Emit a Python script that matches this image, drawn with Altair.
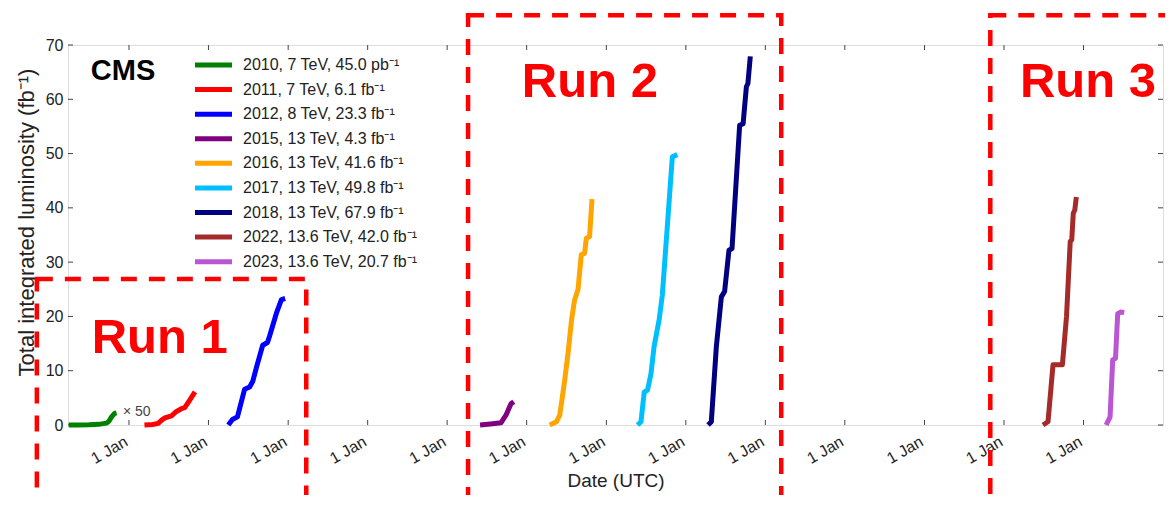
import altair as alt
import pandas as pd

# ---------------- data ----------------
LABELS = [
    "2010, 7 TeV, 45.0 pb⁻¹",
    "2011, 7 TeV, 6.1 fb⁻¹",
    "2012, 8 TeV, 23.3 fb⁻¹",
    "2015, 13 TeV, 4.3 fb⁻¹",
    "2016, 13 TeV, 41.6 fb⁻¹",
    "2017, 13 TeV, 49.8 fb⁻¹",
    "2018, 13 TeV, 67.9 fb⁻¹",
    "2022, 13.6 TeV, 42.0 fb⁻¹",
    "2023, 13.6 TeV, 20.7 fb⁻¹",
]
COLORS = ["#008000", "#ff0000", "#0000ff", "#800080", "#ffa500",
          "#00bfff", "#000080", "#a52a2a", "#ba55d3"]

# 2010 is drawn multiplied by 50 (as in the original)
DATES_2010 = ["2010-03-30", "2010-05-15", "2010-07-01", "2010-08-15", "2010-09-20",
              "2010-10-01", "2010-10-13", "2010-10-27", "2010-11-05"]
LUMI_2010_X50 = [0.0, 0.02, 0.05, 0.12, 0.35, 0.7, 1.5, 2.15, 2.25]

DATES_2011 = ["2011-03-13", "2011-04-20", "2011-05-15", "2011-05-31", "2011-06-15",
              "2011-07-15", "2011-08-07", "2011-08-30", "2011-09-14", "2011-10-07",
              "2011-10-31"]
LUMI_2011 = [0.0, 0.1, 0.3, 0.9, 1.3, 1.7, 2.5, 3.0, 3.2, 4.6, 6.1]

DATES_2012 = ["2012-04-01", "2012-04-20", "2012-05-13", "2012-06-15", "2012-07-08",
              "2012-07-22", "2012-08-09", "2012-09-06", "2012-09-28", "2012-10-07",
              "2012-11-08", "2012-12-01", "2012-12-18"]
LUMI_2012 = [0.0, 1.0, 1.5, 6.6, 7.0, 8.0, 10.7, 14.7, 15.2, 16.3, 20.6, 23.1, 23.3]

DATES_2015 = ["2015-06-01", "2015-07-20", "2015-09-05", "2015-09-28", "2015-10-21",
              "2015-11-03"]
LUMI_2015 = [0.0, 0.2, 0.4, 1.8, 3.9, 4.3]

DATES_2016 = ["2016-04-16", "2016-05-17", "2016-06-01", "2016-06-24", "2016-07-09",
              "2016-07-25", "2016-08-08", "2016-08-24", "2016-09-08", "2016-09-23",
              "2016-10-01", "2016-10-16", "2016-10-27"]
LUMI_2016 = [0.0, 0.6, 1.8, 8.3, 13.2, 19.3, 23.0, 25.0, 31.4, 31.6, 34.4, 34.7, 41.6]

DATES_2017 = ["2017-05-24", "2017-06-09", "2017-06-24", "2017-07-09", "2017-07-25",
              "2017-08-08", "2017-08-31", "2017-09-15", "2017-10-31", "2017-11-23"]
LUMI_2017 = [0.0, 0.6, 6.1, 6.4, 9.5, 14.4, 19.3, 23.9, 49.4, 49.8]

DATES_2018 = ["2018-04-13", "2018-04-28", "2018-05-21", "2018-06-13", "2018-06-28",
              "2018-07-18", "2018-08-01", "2018-09-05", "2018-09-21", "2018-10-06",
              "2018-10-13", "2018-10-24"]
LUMI_2018 = [0.0, 0.6, 14.4, 23.6, 24.6, 32.2, 32.5, 55.2, 55.5, 62.3, 62.9, 67.9]

DATES_2022 = ["2022-06-29", "2022-07-22", "2022-08-14", "2022-09-26", "2022-10-15",
              "2022-11-01", "2022-11-08", "2022-11-15", "2022-11-22", "2022-11-29"]
LUMI_2022 = [0.0, 0.6, 11.1, 11.1, 20.0, 33.8, 34.1, 39.0, 39.6, 42.0]

DATES_2023 = ["2023-04-15", "2023-05-03", "2023-05-15", "2023-05-28", "2023-06-07",
              "2023-06-22", "2023-07-07"]
LUMI_2023 = [0.0, 1.5, 12.0, 12.3, 20.5, 20.8, 20.7]

YEAR_TICKS = [2011, 2012, 2013, 2014, 2015, 2016, 2017, 2018, 2019, 2020, 2021, 2022, 2023]
Y_TICKS = [0, 10, 20, 30, 40, 50, 60, 70]

# annotations (data coordinates)
RUN_NAMES = ["Run 1", "Run 2", "Run 3"]
RUN_START = ["2009-11-04", "2015-04-07", "2021-10-30"]
RUN_END = ["2013-03-25", "2019-03-15", "2024-04-20"]
RUN_TOP = [26.9, 75.5, 75.5]
RUN_BOTTOM = [-14.9, -14.9, -14.9]
RUN_LABEL_DATE = ["2010-07-14", "2015-12-10", "2022-03-15"]
RUN_LABEL_LUMI = [13.3, 60.4, 60.4]

CMS_DATE = ["2010-07-10"]
CMS_LUMI = [63.6]
X50_DATE = ["2010-12-04"]
X50_LUMI = [2.4]

# ---------------- tables ----------------
series = [
    (DATES_2010, LUMI_2010_X50), (DATES_2011, LUMI_2011), (DATES_2012, LUMI_2012),
    (DATES_2015, LUMI_2015), (DATES_2016, LUMI_2016), (DATES_2017, LUMI_2017),
    (DATES_2018, LUMI_2018), (DATES_2022, LUMI_2022), (DATES_2023, LUMI_2023),
]
frames = []
for lab, (d, v) in zip(LABELS, series):
    frames.append(pd.DataFrame({"date": d, "lumi": v, "label": lab}))
lines_df = pd.concat(frames, ignore_index=True)

year_df = pd.DataFrame({"date": [f"{y}-01-01" for y in YEAR_TICKS]})
ytick_df = pd.DataFrame({"lumi": Y_TICKS})
runs_df = pd.DataFrame({"name": RUN_NAMES, "date": RUN_START, "date2": RUN_END,
                        "lumi": RUN_TOP, "lumi2": RUN_BOTTOM})
runlab_df = pd.DataFrame({"name": RUN_NAMES, "date": RUN_LABEL_DATE, "lumi": RUN_LABEL_LUMI})
cms_df = pd.DataFrame({"t": ["CMS"], "date": CMS_DATE, "lumi": CMS_LUMI})
x50_df = pd.DataFrame({"t": ["× 50"], "date": X50_DATE, "lumi": X50_LUMI})
legend_df = pd.DataFrame({"label": LABELS})

# ---------------- layout ----------------
W, H = 1095, 380
FONT = "Liberation Sans"
TXT = "#222222"

xscale = alt.Scale(type="utc",
                   domain=[alt.DateTime(year=2010, month=3, date=27, utc=True),
                           alt.DateTime(year=2024, month=1, date=1, utc=True)])
yscale = alt.Scale(domain=[0, 70], nice=False, zero=False)
cscale = alt.Scale(domain=LABELS, range=COLORS)

xaxis = alt.Axis(values=[alt.DateTime(year=y, month=1, date=1, utc=True) for y in YEAR_TICKS],
                 labelExpr="utcFormat(datum.value, '%-d %b')",
                 title="Date (UTC)")
yaxis = alt.Axis(values=Y_TICKS, title="Total integrated luminosity (fb⁻¹)")

X = lambda f="date": alt.X(f"{f}:T", scale=xscale, axis=xaxis)
Y = lambda f="lumi": alt.Y(f"{f}:Q", scale=yscale, axis=yaxis)

tick_col = "#444444"
tick_bottom = alt.Chart(year_df).mark_rule(color=tick_col, strokeWidth=1).encode(
    x=X(), y=alt.value(H - 5), y2=alt.value(H))
tick_top = alt.Chart(year_df).mark_rule(color=tick_col, strokeWidth=1).encode(
    x=X(), y=alt.value(0), y2=alt.value(5))
tick_left = alt.Chart(ytick_df).mark_rule(color=tick_col, strokeWidth=1).encode(
    y=Y(), x=alt.value(0), x2=alt.value(5))
tick_right = alt.Chart(ytick_df).mark_rule(color=tick_col, strokeWidth=1).encode(
    y=Y(), x=alt.value(W - 5), x2=alt.value(W))

lines = alt.Chart(lines_df).mark_line(strokeWidth=5, strokeJoin="round").encode(
    x=X(), y=Y(),
    color=alt.Color("label:N", scale=cscale, legend=None),
    detail="label:N")

x50 = alt.Chart(x50_df).mark_text(align="left", baseline="middle", fontSize=14,
                                  color="#444444", font=FONT).encode(x=X(), y=Y(), text="t:N")
cms = alt.Chart(cms_df).mark_text(align="left", baseline="alphabetic", fontSize=29,
                                  fontWeight="bold", color="#000000", font=FONT).encode(
    x=X(), y=Y(), text="t:N")
runlab = alt.Chart(runlab_df).mark_text(align="left", baseline="alphabetic", fontSize=49,
                                        fontWeight="bold", color="#ff0000", font=FONT).encode(
    x=X(), y=Y(), text="name:N")
boxes = alt.Chart(runs_df).mark_rect(fillOpacity=0, stroke="#ff0000", strokeWidth=4.5,
                                     strokeDash=[16, 12]).encode(
    x=X(), x2="date2:T", y=Y(), y2="lumi2:Q")

main = alt.layer(tick_bottom, tick_top, tick_left, tick_right, lines, x50, cms, runlab, boxes)

leg_y = alt.Y("label:N", scale=alt.Scale(type="point", domain=LABELS, range=[20, 216.7], padding=0),
              axis=None)
leg_sym = alt.Chart(legend_df).mark_rule(strokeWidth=5).encode(
    y=leg_y, x=alt.value(127), x2=alt.value(164),
    color=alt.Color("label:N", scale=cscale, legend=None))
leg_txt = alt.Chart(legend_df).mark_text(align="left", baseline="middle", fontSize=16,
                                         color=TXT, font=FONT).encode(
    y=leg_y, x=alt.value(175), text="label:N")
legend = alt.layer(leg_sym, leg_txt)

chart = alt.layer(main, legend).resolve_scale(y="independent").properties(
    width=W, height=H,
    autosize=alt.AutoSizeParams(type="none"),
    padding={"left": 60, "top": 37, "right": 2, "bottom": 70},
).configure_view(
    stroke="#333333", strokeWidth=1.5
).configure(font=FONT).configure_axis(
    domain=False, ticks=False, grid=False,
    labelColor=TXT, titleColor=TXT, labelFont=FONT, titleFont=FONT,
    titleFontWeight="normal", labelFlush=False, labelOverlap=False,
).configure_axisX(
    labelAngle=-30, labelAlign="right", labelBaseline="top", labelPadding=8,
    labelOffset=-7, labelFontSize=16, titleFontSize=19, titlePadding=5,
).configure_axisY(
    labelFontSize=16, labelPadding=5, titleFontSize=22, titlePadding=7, titleY=177,
)

chart.save("out.html", embed_options={"renderer": "svg", "actions": False})
